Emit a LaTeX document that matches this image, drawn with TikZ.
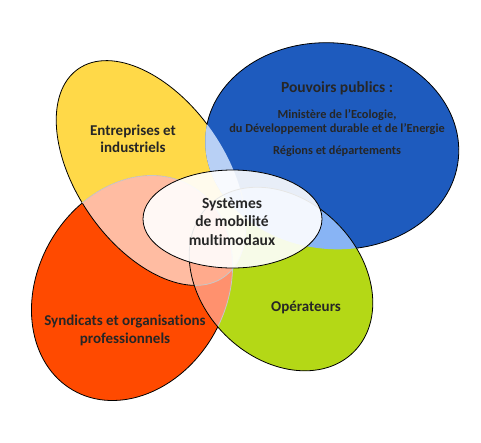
\documentclass[tikz,border=0pt]{standalone}
\usepackage{fontspec}
\setmainfont[Ligatures=NoCommon]{Carlito}
\definecolor{cY}{RGB}{255,217,72}
\definecolor{cB}{RGB}{30,91,190}
\definecolor{cO}{RGB}{255,74,0}
\definecolor{cG}{RGB}{180,216,22}
\definecolor{cYB}{RGB}{184,208,245}
\definecolor{cYO}{RGB}{255,188,162}
\definecolor{cOG}{RGB}{255,145,110}
\definecolor{cGB}{RGB}{136,180,245}
\definecolor{cYOG}{RGB}{255,170,140}
\definecolor{cYG}{RGB}{235,240,150}
\definecolor{txt}{RGB}{38,38,38}
\begin{document}
\begin{tikzpicture}[x=1pt,y=-1pt,
  lbl/.style={font=\bfseries\fontsize{15}{16.7}\selectfont, text=txt, align=center, inner sep=0pt},
  sml/.style={font=\bfseries\fontsize{12.3}{14.3}\selectfont, text=txt, align=center, inner sep=0pt},
  outl/.style={draw=black, line width=0.8pt},
  soft/.style={draw=black!22, line width=0.8pt}]
\useasboundingbox (0,0) rectangle (481,442);
\def\Y{(151,173) ellipse [x radius=127, y radius=74, rotate=-55]}
\def\B{(332,146) ellipse [x radius=127, y radius=103, rotate=-6]}
\def\O{(132,288) ellipse [x radius=118, y radius=94, rotate=60]}
\def\G{(281,279) ellipse [x radius=103, y radius=79, rotate=-45]}
\def\W{(232.5,219) ellipse [x radius=89.5, y radius=49]}
\def\R{(-50,-50) rectangle (550,500)}
% base fills
\fill[cY] \Y; \fill[cB] \B; \fill[cO] \O; \fill[cG] \G;
% overlaps
\begin{scope}\clip \Y; \fill[cYB] \B; \fill[cYO] \O; \fill[cYG] \G; \end{scope}
\begin{scope}\clip \G; \fill[cGB] \B; \fill[cOG] \O; \clip \O; \fill[cYOG] \Y; \end{scope}
% yellow outline
\begin{scope}[even odd rule]\clip \R \B; \clip \R \G; \draw[outl] \Y; \end{scope}
\begin{scope}\clip \G; \draw[soft] \Y; \end{scope}
% blue outline
\begin{scope}[even odd rule]\clip \R \Y; \clip \R \G; \draw[outl] \B; \end{scope}
% orange outline
\begin{scope}[even odd rule]\clip \R \Y; \clip \R \G; \draw[outl] \O; \end{scope}
\begin{scope}\clip \Y; \draw[soft] \O; \end{scope}
\begin{scope}\clip \G; \draw[soft] \O; \end{scope}
% green outline
\draw[outl] \G;
% centre
\fill[white, opacity=0.9] \W;
\draw[outl] \W;
% texts
\node[lbl, font=\bfseries\fontsize{15.5}{18}\selectfont] (pp) at (337,88) {Pouvoirs publics :};
\node[sml] (min) at (337,122) {Ministère de l'Ecologie,\\du Développement durable et de l'Energie};
\node[sml] (reg) at (337,151) {Régions et départements};
\node[lbl] (ent) at (133,139) {Entreprises et\\industriels};
\node[lbl, font=\bfseries\fontsize{15.5}{18.5}\selectfont] (sys) at (232,221.5) {Systèmes\\de mobilité\\multimodaux};
\node[lbl, font=\bfseries\fontsize{15}{17.5}\selectfont] (syn) at (125,330.5) {Syndicats et organisations\\professionnels};
\node[lbl] (op) at (306,307) {Opérateurs};
\end{tikzpicture}
\end{document}
